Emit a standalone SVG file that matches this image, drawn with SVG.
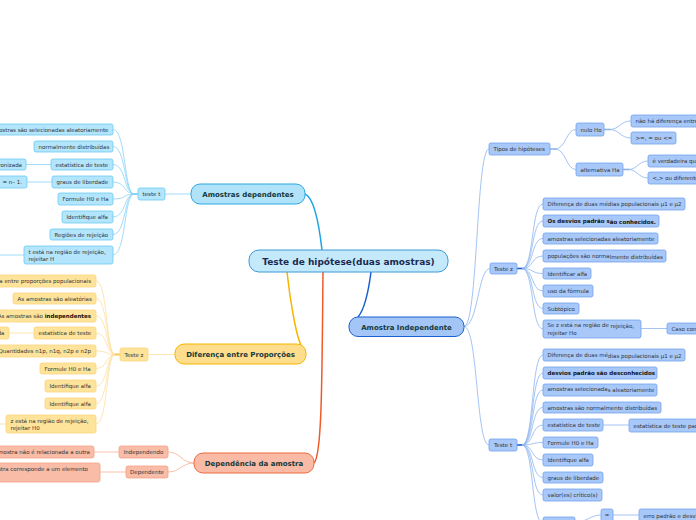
<svg xmlns="http://www.w3.org/2000/svg" width="696" height="520" viewBox="0 0 696 520">
<style>
text{font-family:"DejaVu Sans",Verdana,"Liberation Sans",sans-serif;font-size:5.5px;fill:#333}
.b{font-weight:bold}
.e{text-anchor:end}
.m{text-anchor:middle}
.lt rect{fill:#b3e5fc;stroke:#6ccaf3;stroke-width:0.8}
.or rect{fill:#fee39b;stroke:#fcd47c;stroke-width:0.8}
.rd rect{fill:#f9bca7;stroke:#f5a285;stroke-width:0.8}
.db rect{fill:#a7c8f9;stroke:#72a2ec;stroke-width:0.8}
.title text{font-size:7px;font-weight:bold;fill:#16383a;text-anchor:middle}
#conn path{fill:none}
.clt{stroke:#88d3f7;stroke-width:0.8}
.cor{stroke:#fde0a0;stroke-width:0.8}
.crd{stroke:#f8ae97;stroke-width:0.8}
.cdb{stroke:#8db5f0;stroke-width:0.8}
</style>
<g id="conn">
<!-- main -->
<path d="M322,250 C318,215 312,197 305,194" stroke="#1ea5e3" stroke-width="1.5"/>
<path d="M287,272 C290,300 296,335 301,345" stroke="#f7b500" stroke-width="1.5"/>
<path d="M323,272 C322,380 322,455 314,463" stroke="#f05a28" stroke-width="1.5"/>
<path d="M371,272 C368,295 364,310 358,317" stroke="#1a5fd0" stroke-width="1.5"/>
<!-- left teste t -->
<g class="clt">
<path d="M165,194 L191,194"/>
<path d="M133,194 L138,194" stroke-width="2"/>
<path d="M113,129.5 C126,129.5 124,194 134,194"/>
<path d="M113,146.5 C126,146.5 124,194 134,194"/>
<path d="M113,164.5 C126,164.5 124,194 134,194"/>
<path d="M113,182 C126,182 124,194 134,194"/>
<path d="M113,199 C126,199 124,194 134,194"/>
<path d="M113,217 C126,217 124,194 134,194"/>
<path d="M113,234.5 C126,234.5 124,194 134,194"/>
<path d="M113,255 C126,255 124,194 134,194"/>
<path d="M26,164.5 L51,164.5"/>
<path d="M27,182 L52,182"/>
<path d="M-5,255 L24,255"/>
</g>
<!-- orange -->
<g class="cor">
<path d="M148,354.5 L175,354.5"/>
<path d="M114,354.5 L120,354.5" stroke="#fcc84a" stroke-width="2"/>
<path d="M96,281 C108,281 106,354.5 115,354.5"/>
<path d="M96,298.5 C108,298.5 106,354.5 115,354.5"/>
<path d="M96,316 C108,316 106,354.5 115,354.5"/>
<path d="M96,333 C108,333 106,354.5 115,354.5"/>
<path d="M96,351 C108,351 106,354.5 115,354.5"/>
<path d="M96,368.5 C108,368.5 106,354.5 115,354.5"/>
<path d="M96,386 C108,386 106,354.5 115,354.5"/>
<path d="M96,403.5 C108,403.5 106,354.5 115,354.5"/>
<path d="M96,424 C108,424 106,354.5 115,354.5"/>
<path d="M9,333 L34,333"/>
<path d="M-5,424 L6,424"/>
</g>
<!-- red -->
<g class="crd">
<path d="M194,463 C182,463 180,452 168,452"/>
<path d="M194,463 C182,463 180,472 168,472"/>
<path d="M94,452 L119,452"/>
<path d="M100,472 L126,472"/>
</g>
<!-- dark blue -->
<g class="cdb">
<path d="M464,326.5 C478,326.5 476,149 489,149"/>
<path d="M464,326.5 C478,326.5 478,268.5 490,268.5"/>
<path d="M464,326.5 C478,326.5 476,445 489,445"/>
<path d="M550,149 L556,149" stroke-width="1.6"/>
<path d="M555,149 C566,149 566,129.5 576,129.5"/>
<path d="M555,149 C566,149 566,169.5 576,169.5"/>
<path d="M604,129.5 L610,129.5" stroke-width="1.6"/>
<path d="M609,129.5 C620,129.5 620,121 631,121"/>
<path d="M609,129.5 C620,129.5 620,138 631,138"/>
<path d="M623,169.5 L629,169.5" stroke-width="1.6"/>
<path d="M628,169.5 C638,169.5 638,161 648,161"/>
<path d="M628,169.5 C638,169.5 638,178 648,178"/>
<path d="M517,268.5 L523,268.5" stroke="#1a5fd0" stroke-width="1.6"/>
<path d="M522,268.5 C534,268.5 531,204 543,204"/>
<path d="M522,268.5 C534,268.5 531,221 543,221"/>
<path d="M522,268.5 C534,268.5 531,238.5 543,238.5"/>
<path d="M522,268.5 C534,268.5 531,256 543,256"/>
<path d="M522,268.5 C534,268.5 531,273.5 543,273.5"/>
<path d="M522,268.5 C534,268.5 531,291 543,291"/>
<path d="M522,268.5 C534,268.5 531,308.5 543,308.5"/>
<path d="M522,268.5 C534,268.5 531,329 543,329"/>
<path d="M641,328.5 L667,328.5"/>
<path d="M517,445 L523,445" stroke="#1a5fd0" stroke-width="1.6"/>
<path d="M522,445 C534,445 531,355 543,355"/>
<path d="M522,445 C534,445 531,373 543,373"/>
<path d="M522,445 C534,445 531,390 543,390"/>
<path d="M522,445 C534,445 531,407.5 543,407.5"/>
<path d="M522,445 C534,445 531,425 543,425"/>
<path d="M522,445 C534,445 531,442.5 543,442.5"/>
<path d="M522,445 C534,445 531,460 543,460"/>
<path d="M522,445 C534,445 531,477.5 543,477.5"/>
<path d="M522,445 C534,445 531,495 543,495"/>
<path d="M522,445 C534,445 531,523 543,523"/>
<path d="M603,425 L629,425"/>
<path d="M575,522 C588,522 590,515 601,515"/>
<path d="M613,515 L639,515"/>
</g>
</g>

<g id="central">
<rect x="249" y="250" width="199" height="22" rx="10" fill="#c4e9fb" stroke="#3c9ad8" stroke-width="1"/>
<text x="348.5" y="264.5" class="m b" style="font-size:9px;fill:#1b2a50">Teste de hipótese(duas amostras)</text>
</g>

<g id="amostras-dependentes" class="title">
<rect x="191" y="184" width="114" height="20" rx="9" fill="#b0e3fa" stroke="#2aa8e2" stroke-width="1"/>
<text x="248" y="196.5">Amostras dependentes</text>
</g>
<g id="diferenca-proporcoes" class="title">
<rect x="175" y="344" width="131" height="20" rx="9" fill="#fedd8c" stroke="#f7b500" stroke-width="1"/>
<text x="240.5" y="356.5">Diferença entre Proporções</text>
</g>
<g id="dependencia-amostra" class="title">
<rect x="194" y="453" width="120" height="20" rx="9" fill="#f9bba5" stroke="#ee6a40" stroke-width="1"/>
<text x="254" y="465.5">Dependência da amostra</text>
</g>
<g id="amostra-independente" class="title">
<rect x="349" y="317" width="115" height="19.5" rx="9" fill="#a3c6f7" stroke="#1b5fd3" stroke-width="1"/>
<text x="406.5" y="329.5">Amostra Independente</text>
</g>

<!-- left teste t branch -->
<g id="dep-teste-t" class="lt"><rect x="138" y="188" width="27" height="12" rx="2"/><text x="151.5" y="196" class="m">teste t</text></g>
<g id="dep-t1" class="lt"><rect x="-40" y="124" width="153" height="11" rx="2"/><text x="108.5" y="131.5" class="e">Amostras são selecionadas aleatoriamente</text></g>
<g id="dep-t2" class="lt"><rect x="34" y="141" width="79" height="11" rx="2"/><text x="38.5" y="148.5">normalmente distribuídas</text></g>
<g id="dep-t3" class="lt"><rect x="51" y="159" width="62" height="11" rx="2"/><text x="55.5" y="166.5">estatística de teste</text></g>
<g id="dep-t3a" class="lt"><rect x="-30" y="159" width="56" height="11" rx="2"/><text x="22" y="166.5" class="e">padronizada</text></g>
<g id="dep-t4" class="lt"><rect x="52" y="176" width="61" height="12" rx="2"/><text x="56.5" y="184">graus de liberdade</text></g>
<g id="dep-t4a" class="lt"><rect x="-30" y="176" width="57" height="12" rx="2"/><text x="22" y="184" class="e">= n– 1.</text></g>
<g id="dep-t5" class="lt"><rect x="58" y="193" width="55" height="12" rx="2"/><text x="62.5" y="201">Formule H0 e Ha</text></g>
<g id="dep-t6" class="lt"><rect x="62" y="211" width="51" height="12" rx="2"/><text x="66.5" y="219">Identifique alfa</text></g>
<g id="dep-t7" class="lt"><rect x="50" y="229" width="63" height="11" rx="2"/><text x="54.5" y="236.5">Regiões de rejeição</text></g>
<g id="dep-t8" class="lt"><rect x="24" y="246" width="89" height="18" rx="2"/><text x="28.5" y="253.5">t está na região de rejeição,</text><text x="28.5" y="261">rejeitar H</text></g>

<!-- orange branch -->
<g id="prop-teste-z" class="or"><rect x="120" y="348" width="28" height="13" rx="2"/><text x="134" y="356.5" class="m">Teste z</text></g>
<g id="prop-1" class="or"><rect x="-40" y="275" width="136" height="12" rx="2"/><text x="91" y="283" class="e">Diferença entre proporções populacionais</text></g>
<g id="prop-2" class="or"><rect x="13" y="293" width="83" height="11" rx="2"/><text x="17.5" y="300.5">As amostras são aleatórias</text></g>
<g id="prop-3" class="or"><rect x="-40" y="310" width="136" height="12" rx="2"/><text x="91" y="318" class="e">As amostras são <tspan class="b" style="fill:#111">independentes</tspan></text></g>
<g id="prop-4" class="or"><rect x="34" y="327" width="62" height="12" rx="2"/><text x="38.5" y="335">estatística de teste</text></g>
<g id="prop-4a" class="or"><rect x="-40" y="327" width="49" height="12" rx="2"/><text x="4.5" y="335" class="e">padronizada</text></g>
<g id="prop-5" class="or"><rect x="-40" y="345" width="136" height="12" rx="2"/><text x="91" y="353" class="e">Quantidades n1p, n1q, n2p e n2p</text></g>
<g id="prop-6" class="or"><rect x="40" y="363" width="56" height="11" rx="2"/><text x="44.5" y="370.5">Formule H0 e Ha</text></g>
<g id="prop-7" class="or"><rect x="45" y="380" width="51" height="12" rx="2"/><text x="49.5" y="388">Identifique alfa</text></g>
<g id="prop-8" class="or"><rect x="45" y="398" width="51" height="11" rx="2"/><text x="49.5" y="405.5">Identifique alfa</text></g>
<g id="prop-9" class="or"><rect x="6" y="415" width="90" height="18" rx="2"/><text x="10.5" y="422.5">z está na região de rejeição,</text><text x="10.5" y="430">rejeitar H0</text></g>

<!-- red branch -->
<g id="dep-indep" class="rd"><rect x="119" y="446" width="49" height="12" rx="2"/><text x="143.5" y="454" class="m">Independendo</text></g>
<g id="dep-dep" class="rd"><rect x="126" y="466" width="42" height="12" rx="2"/><text x="147" y="474" class="m">Dependente</text></g>
<g id="dep-r1" class="rd"><rect x="-60" y="446" width="154" height="12" rx="2"/><text x="90" y="454" class="e">Uma amostra não é relacionada a outra</text></g>
<g id="dep-r2" class="rd"><rect x="-60" y="463" width="160" height="19" rx="2"/><text x="88" y="470.5" class="e">amostra corresponde a um elemento</text></g>

<!-- right: tipos -->
<g id="tipos" class="db"><rect x="489" y="143" width="61" height="12" rx="2"/><text x="493.5" y="151">Tipos de hipóteses</text></g>
<g id="nulo" class="db"><rect x="576" y="123" width="28" height="13" rx="2"/><text x="580.5" y="131.5">nulo Ho</text></g>
<g id="alternativa" class="db"><rect x="576" y="163" width="47" height="13" rx="2"/><text x="580.5" y="171.5">alternativa Ha</text></g>
<g id="nulo-1" class="db"><rect x="631" y="115" width="80" height="12" rx="2"/><text x="635.5" y="123">não há diferença entre</text></g>
<g id="nulo-2" class="db"><rect x="631" y="132" width="45" height="12" rx="2"/><text x="635.5" y="140">&gt;=, = ou &lt;=</text></g>
<g id="alt-1" class="db"><rect x="648" y="155" width="60" height="12" rx="2"/><text x="652.5" y="163">é verdadeira  quando</text></g>
<g id="alt-2" class="db"><rect x="648" y="172" width="60" height="12" rx="2"/><text x="652.5" y="180">&lt;,&gt; ou diferente</text></g>

<!-- right: teste z -->
<g id="ind-teste-z" class="db"><rect x="490" y="263" width="27" height="11" rx="2"/><text x="503.5" y="270.5" class="m">Teste z</text></g>
<g id="z1" class="db"><rect x="543" y="198" width="142" height="12" rx="2"/><text x="547.5" y="206">Diferença de duas médias populacionais µ1 e µ2</text></g>
<g id="z2" class="db"><rect x="543" y="215" width="116" height="12" rx="2"/><text x="547.5" y="222.5" class="b" style="fill:#111">Os desvios padrão s<tspan dy="1">ão conhecidos.</tspan></text></g>
<g id="z3" class="db"><rect x="543" y="233" width="115" height="11" rx="2"/><text x="547.5" y="240.5">amostras selecionadas aleatoriamente</text></g>
<g id="z4" class="db"><rect x="543" y="250" width="123" height="12" rx="2"/><text x="547.5" y="257.5">populações são norma<tspan dy="1">lmente distribuídas</tspan></text></g>
<g id="z5" class="db"><rect x="543" y="268" width="48" height="11" rx="2"/><text x="547.5" y="275.5">Identificar alfa</text></g>
<g id="z6" class="db"><rect x="543" y="285" width="50" height="12" rx="2"/><text x="547.5" y="293">uso da fórmula</text></g>
<g id="z7" class="db"><rect x="543" y="303" width="36" height="11" rx="2"/><text x="547.5" y="310.5">Subtópico</text></g>
<g id="z8" class="db"><rect x="543" y="320" width="98" height="18" rx="2"/><text x="547.5" y="327">Se z está na região de <tspan dy="0.8">rejeição,</tspan></text><text x="547.5" y="335">rejeitar Ho</text></g>
<g id="z8a" class="db"><rect x="667" y="323" width="60" height="11" rx="2"/><text x="671.5" y="330.5">Caso contrário</text></g>

<!-- right: teste t -->
<g id="ind-teste-t" class="db"><rect x="489" y="439" width="28" height="12" rx="2"/><text x="503" y="447" class="m">Teste t</text></g>
<g id="t1" class="db"><rect x="543" y="349" width="142" height="12" rx="2"/><text x="547.5" y="356.5">Diferença de duas mé<tspan dy="1">dias populacionais µ1 e µ2</tspan></text></g>
<g id="t2" class="db"><rect x="543" y="367" width="114" height="12" rx="2"/><text x="547.5" y="375" class="b" style="fill:#111">desvios padrão são desconhecidos</text></g>
<g id="t3" class="db"><rect x="543" y="384" width="114" height="12" rx="2"/><text x="547.5" y="391">amostras selecionada<tspan dy="1">s aleatoriamente</tspan></text></g>
<g id="t4" class="db"><rect x="543" y="402" width="118" height="11" rx="2"/><text x="547.5" y="409.5">amostras são normalmente distribuídas</text></g>
<g id="t5" class="db"><rect x="543" y="419" width="60" height="12" rx="2"/><text x="547.5" y="427">estatística de teste</text></g>
<g id="t5a" class="db"><rect x="629" y="419" width="80" height="13" rx="2"/><text x="633.5" y="427.5">estatística de teste padronizada</text></g>
<g id="t6" class="db"><rect x="543" y="437" width="55" height="11" rx="2"/><text x="547.5" y="444.5">Formule H0 e Ha</text></g>
<g id="t7" class="db"><rect x="543" y="454" width="50" height="12" rx="2"/><text x="547.5" y="462">Identifique alfa</text></g>
<g id="t8" class="db"><rect x="543" y="472" width="60" height="11" rx="2"/><text x="547.5" y="479.5">graus de liberdade</text></g>
<g id="t9" class="db"><rect x="543" y="489" width="59" height="12" rx="2"/><text x="547.5" y="497">valor(es) crítico(s)</text></g>
<g id="t10" class="db"><rect x="543" y="517" width="32" height="12" rx="2"/></g>
<g id="t10-eq" class="db"><rect x="601" y="509" width="12" height="13" rx="2"/><text x="607" y="517" class="m">=</text></g>
<g id="t10-erro" class="db"><rect x="639" y="509" width="70" height="13" rx="2"/><text x="643.5" y="517.5">erro padrão e desvio</text></g>
</svg>
